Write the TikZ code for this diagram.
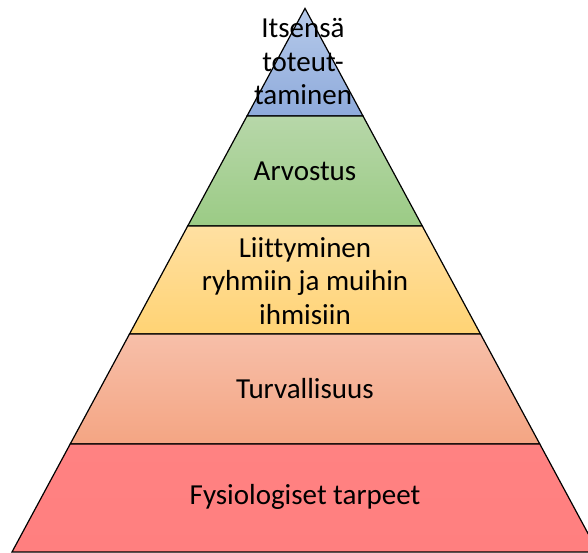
\documentclass[tikz,border=0pt]{standalone}
\usepackage{fontspec}
\setmainfont{Carlito}[Ligatures=NoCommon]
\definecolor{blueA}{HTML}{B6CAEA}
\definecolor{blueB}{HTML}{8EAADB}
\definecolor{greenA}{HTML}{B7D7A9}
\definecolor{greenB}{HTML}{9BCB85}
\definecolor{yellowA}{HTML}{FFE0A2}
\definecolor{yellowB}{HTML}{FFD374}
\definecolor{salmonA}{HTML}{F7BFA9}
\definecolor{salmonB}{HTML}{F4A583}
\definecolor{redA}{HTML}{FF8282}
\definecolor{redB}{HTML}{FF7F7F}
\tikzset{
  edge/.style={draw=black, line width=1.2pt, line join=miter},
  label/.style={align=center, font=\fontsize{29}{33.5}\selectfont, inner sep=0pt, text=black},
}
% half width of the pyramid at height y (apex at y=8.4, slope 0.539)
\newcommand{\hw}[1]{(#1-8.4)*0.539}
\newcommand{\tier}[4]{%
  \shade[top color=#3, bottom color=#4]
    ({305-\hw{#1}},#1) -- ({305+\hw{#1}},#1) -- ({305+\hw{#2}},#2) -- ({305-\hw{#2}},#2) -- cycle;
  \draw[edge]
    ({305-\hw{#1}},#1) -- ({305+\hw{#1}},#1) -- ({305+\hw{#2}},#2) -- ({305-\hw{#2}},#2) -- cycle;
}
\begin{document}
\begin{tikzpicture}[x=1pt, y=-1pt]
  \useasboundingbox (0,0) rectangle (588,552);
  \clip (0,0) rectangle (588,552);
  \fill[white] (0,0) rectangle (588,552);
  % tiers, top to bottom
  \tier{8.4}{116}{blueA}{blueB}
  \tier{116}{226}{greenA}{greenB}
  \tier{226}{334}{yellowA}{yellowB}
  \tier{334}{444}{salmonA}{salmonB}
  \tier{444}{552}{redA}{redB}
  % tier labels
  \node[label] (self)   at (303,62)  {Itsensä\\toteut-\\taminen};
  \node[label] (esteem) at (305,171) {Arvostus};
  \node[label] (belong) at (305,281) {Liittyminen\\ryhmiin ja muihin\\ihmisiin};
  \node[label] (safety) at (305,389) {Turvallisuus};
  \node[label] (physio) at (305,497) {Fysiologiset tarpeet};
\end{tikzpicture}
\end{document}
